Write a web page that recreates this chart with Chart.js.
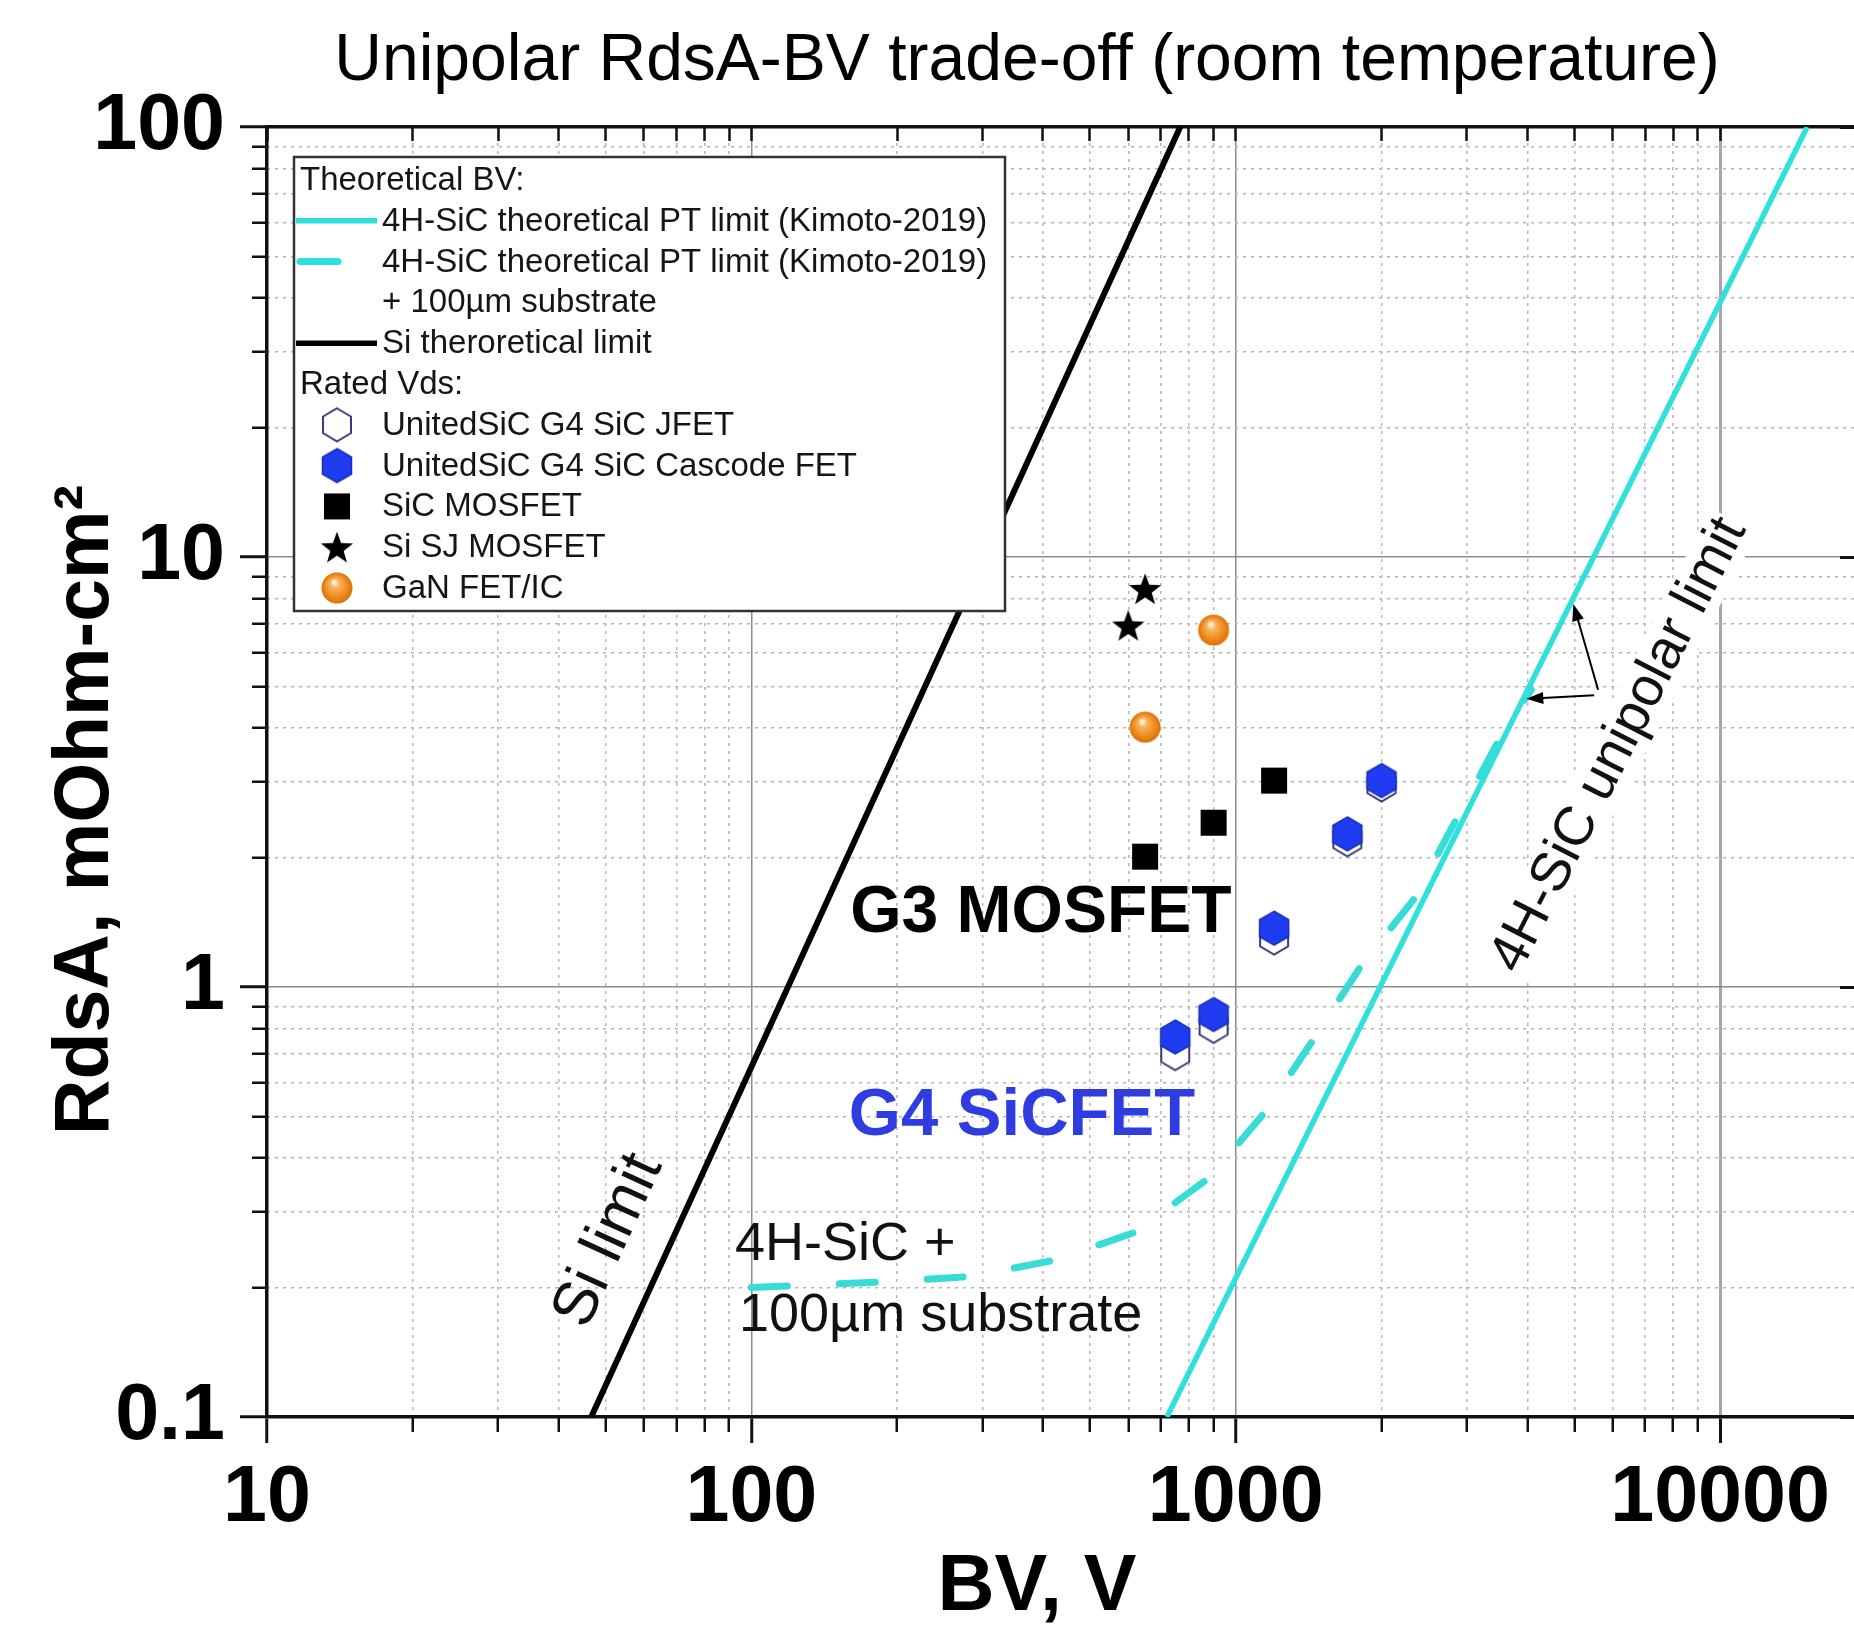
<!DOCTYPE html>
<html>
<head>
<meta charset="utf-8">
<title>Unipolar RdsA-BV trade-off</title>
<script src="https://cdn.jsdelivr.net/npm/chart.js@4/dist/chart.umd.min.js"></script>
<style>
  html, body { margin: 0; padding: 0; background: #fff; }
  canvas { display: block; }
</style>
</head>
<body>
<canvas id="tradeoff" width="1854" height="1626"></canvas>
<script>
// BV in volts, RdsA in mOhm-cm2
const siLimitBV = [46.7, 119, 768];
const siLimitR = [0.1, 1, 100];

const sicLimitBV = [721, 1986, 15130];
const sicLimitR = [0.1, 1, 100];

const sicSubBV = [100, 187, 282, 426, 620, 881, 1150, 1459, 1833, 2323, 2917, 3530, 4074];
const sicSubR = [0.200, 0.206, 0.212, 0.232, 0.269, 0.360, 0.512, 0.766, 1.14, 1.59, 2.57, 3.83, 4.91];

const jfetBV = [750, 900, 1200, 1700, 2000];
const jfetR = [0.70, 0.81, 1.30, 2.20, 2.95];

const cascodeBV = [750, 900, 1200, 1700, 2000];
const cascodeR = [0.765, 0.863, 1.37, 2.27, 3.02];

const mosfetBV = [650, 900, 1200];
const mosfetR = [2.01, 2.41, 3.02];

const sjBV = [600, 650];
const sjR = [6.93, 8.43];

const ganBV = [650, 900];
const ganR = [4.02, 6.76];

const xMajor = [10, 100, 1000, 10000];
const yMajor = [0.1, 1, 10, 100];
const X_MIN = 10, X_MAX = 18900;
const Y_MIN = 0.1, Y_MAX = 100;

// 2..9 multiples of each decade, for the minor ticks / dotted grid
const minorTicks = (lo, hi) => {
    const out = [];
    for (let d = lo; d < hi; d *= 10) {
        for (let k = 2; k <= 9; k++) out.push(+(k * d).toPrecision(3));
    }
    return out;
};
const xMinor = minorTicks(10, 10000);
const yMinor = minorTicks(0.1, 100);

const FONT = '"Liberation Sans", Arial, Helvetica, sans-serif';
const CYAN = '#30e0dd';
const BLUE = '#1f3cf0';

// text labels placed in data coordinates
const notes = [
    { text: 'G3 MOSFET', x: 396, y: 1.48, size: 66, weight: 'bold', color: '#000' },
    { text: 'G4 SiCFET', x: 362, y: 0.499, size: 67, weight: 'bold', color: '#2f3de0' },
    { text: '4H-SiC +', x: 92.5, y: 0.251, size: 54, align: 'left' },
    { text: '100µm substrate', x: 94.3, y: 0.172, size: 54, align: 'left' },
    { text: 'Si limit', x: 50.8, y: 0.257, size: 62, angle: -65.5 },
    { text: '4H-SiC unipolar limit', x: 6190, y: 3.65, size: 55, angle: -63, mask: true }
];
const arrows = [
    { from: [5600, 4.91], to: [4977, 7.78] },
    { from: [5495, 4.77], to: [3980, 4.68] }
];

// marker glyphs
function makeIcon(w, h, draw) {
    const c = document.createElement('canvas');
    c.width = w;
    c.height = h;
    draw(c.getContext('2d'), w / 2, h / 2);
    return c;
}
function hexPath(ctx, cx, cy, rx, ry) {
    ctx.beginPath();
    ctx.moveTo(cx, cy - ry);
    ctx.lineTo(cx + rx, cy - ry / 2);
    ctx.lineTo(cx + rx, cy + ry / 2);
    ctx.lineTo(cx, cy + ry);
    ctx.lineTo(cx - rx, cy + ry / 2);
    ctx.lineTo(cx - rx, cy - ry / 2);
    ctx.closePath();
}
const hexFilled = makeIcon(34, 38, (ctx, cx, cy) => {
    hexPath(ctx, cx, cy, 14.5, 17);
    ctx.fillStyle = BLUE;
    ctx.fill();
    ctx.strokeStyle = '#1a2db8';
    ctx.lineWidth = 1.5;
    ctx.stroke();
});
const hexOpen = makeIcon(34, 38, (ctx, cx, cy) => {
    hexPath(ctx, cx, cy, 14, 16.5);
    ctx.fillStyle = '#fff';
    ctx.fill();
    ctx.strokeStyle = '#3a3a78';
    ctx.lineWidth = 2;
    ctx.stroke();
});
const squareIcon = makeIcon(28, 28, (ctx) => {
    ctx.fillStyle = '#000';
    ctx.fillRect(1, 1, 26, 26);
});
const starIcon = makeIcon(36, 36, (ctx, cx, cy) => {
    ctx.beginPath();
    for (let i = 0; i < 10; i++) {
        const r = i % 2 ? 7 : 17;
        const a = -Math.PI / 2 + i * Math.PI / 5;
        ctx.lineTo(cx + r * Math.cos(a), cy + 1.5 + r * Math.sin(a));
    }
    ctx.closePath();
    ctx.fillStyle = '#000';
    ctx.fill();
});
const sphereIcon = makeIcon(34, 34, (ctx, cx, cy) => {
    const g = ctx.createRadialGradient(cx - 3, cy - 6, 1, cx, cy, 15.5);
    g.addColorStop(0, '#fff4e2');
    g.addColorStop(0.25, '#f8b45a');
    g.addColorStop(0.7, '#ee8a1e');
    g.addColorStop(1, '#d97206');
    ctx.beginPath();
    ctx.arc(cx, cy, 15.5, 0, Math.PI * 2);
    ctx.fillStyle = g;
    ctx.fill();
});

const legendRows = [
    { type: 'head', text: 'Theoretical BV:' },
    { type: 'solid', color: CYAN, width: 5.5, text: '4H-SiC theoretical PT limit (Kimoto-2019)' },
    { type: 'dash', color: CYAN, width: 7, text: '4H-SiC theoretical PT limit (Kimoto-2019)' },
    { type: 'text', text: '+ 100µm substrate' },
    { type: 'solid', color: '#000', width: 5.5, text: 'Si theroretical limit' },
    { type: 'head', text: 'Rated Vds:' },
    { type: 'icon', icon: hexOpen, text: 'UnitedSiC G4 SiC JFET' },
    { type: 'icon', icon: hexFilled, text: 'UnitedSiC G4 SiC Cascode FET' },
    { type: 'icon', icon: squareIcon, text: 'SiC MOSFET' },
    { type: 'icon', icon: starIcon, text: 'Si SJ MOSFET' },
    { type: 'icon', icon: sphereIcon, text: 'GaN FET/IC' }
];

const pts = (xs, ys) => xs.map((x, i) => ({ x: x, y: ys[i] }));

function drawArrow(ctx, x1, y1, x2, y2) {
    const a = Math.atan2(y2 - y1, x2 - x1);
    const L = 17, W = 6;
    const cos = Math.cos(a), sin = Math.sin(a);
    ctx.beginPath();
    ctx.moveTo(x1, y1);
    ctx.lineTo(x2 - L * 0.7 * cos, y2 - L * 0.7 * sin);
    ctx.stroke();
    ctx.beginPath();
    ctx.moveTo(x2, y2);
    ctx.lineTo(x2 - L * cos + W * sin, y2 - L * sin - W * cos);
    ctx.lineTo(x2 - L * cos - W * sin, y2 - L * sin + W * cos);
    ctx.closePath();
    ctx.fill();
}

function drawLegend(ctx) {
    const left = 294, top = 157, right = 1005, bottom = 611;
    ctx.save();
    ctx.fillStyle = '#fff';
    ctx.fillRect(left, top, right - left, bottom - top);
    ctx.strokeStyle = '#333';
    ctx.lineWidth = 2.5;
    ctx.strokeRect(left, top, right - left, bottom - top);
    ctx.font = '33px ' + FONT;
    ctx.textBaseline = 'middle';
    legendRows.forEach((row, i) => {
        const y = 180 + i * 40.8;
        if (row.type === 'solid' || row.type === 'dash') {
            ctx.strokeStyle = row.color;
            ctx.lineWidth = row.width;
            ctx.lineCap = row.type === 'dash' ? 'round' : 'butt';
            ctx.beginPath();
            ctx.moveTo(row.type === 'dash' ? 300 : 296, y);
            ctx.lineTo(row.type === 'dash' ? 338 : 377, y);
            ctx.stroke();
        } else if (row.type === 'icon') {
            ctx.drawImage(row.icon, 337 - row.icon.width / 2, y - row.icon.height / 2);
        }
        ctx.fillStyle = '#151515';
        ctx.fillText(row.text, row.type === 'head' ? 300 : 382, y + 1);
    });
    ctx.restore();
}

const decor = {
    id: 'decor',
    beforeDraw(chart) {
        const ctx = chart.ctx;
        ctx.save();
        ctx.fillStyle = '#fff';
        ctx.fillRect(0, 0, chart.width, chart.height);
        ctx.restore();
    },
    afterDatasetsDraw(chart) {
        const { ctx, scales } = chart;
        const px = (x, y) => [scales.x.getPixelForValue(x), scales.y.getPixelForValue(y)];

        notes.forEach(n => {
            const [x, y] = px(n.x, n.y);
            ctx.save();
            ctx.translate(x, y);
            ctx.rotate((n.angle || 0) * Math.PI / 180);
            ctx.font = (n.weight || 'normal') + ' ' + n.size + 'px ' + FONT;
            ctx.textAlign = n.align || 'center';
            ctx.textBaseline = 'middle';
            if (n.mask) {
                const w = ctx.measureText(n.text).width;
                ctx.fillStyle = '#fff';
                ctx.fillRect(-w / 2 - 2, -n.size * 0.48, w + 4, n.size * 0.96);
            }
            ctx.fillStyle = n.color || '#111';
            ctx.fillText(n.text, 0, 0);
            ctx.restore();
        });

        ctx.save();
        ctx.strokeStyle = '#000';
        ctx.fillStyle = '#000';
        ctx.lineWidth = 2;
        arrows.forEach(a => {
            const [x1, y1] = px(a.from[0], a.from[1]);
            const [x2, y2] = px(a.to[0], a.to[1]);
            drawArrow(ctx, x1, y1, x2, y2);
        });
        ctx.restore();

        drawLegend(ctx);
    },
    afterDraw(chart) {
        const ctx = chart.ctx;
        ctx.save();
        ctx.fillStyle = '#000';
        ctx.textAlign = 'center';
        ctx.textBaseline = 'alphabetic';
        ctx.font = '66px ' + FONT;
        ctx.fillText('Unipolar RdsA-BV trade-off (room temperature)', 1027, 80);
        ctx.font = 'bold 79px ' + FONT;
        ctx.fillText('BV, V', 1037, 1610);
        ctx.translate(108, 810);
        ctx.rotate(-Math.PI / 2);
        ctx.font = 'bold 77px ' + FONT;
        ctx.fillText('RdsA, mOhm-cm²', 0, 0);
        ctx.restore();
    }
};

const tickValue = c => (c.tick ? c.tick.value : 0);
const labelFont = { family: FONT, size: 79, weight: 'bold', lineHeight: 1.2 };

new Chart(document.getElementById('tradeoff'), {
    type: 'scatter',
    data: {
        datasets: [
            { label: 'UnitedSiC G4 SiC Cascode FET', data: pts(cascodeBV, cascodeR), pointStyle: hexFilled, pointRadius: 14, order: 1 },
            { label: 'UnitedSiC G4 SiC JFET', data: pts(jfetBV, jfetR), pointStyle: hexOpen, pointRadius: 14, order: 2 },
            { label: 'SiC MOSFET', data: pts(mosfetBV, mosfetR), pointStyle: squareIcon, pointRadius: 14, order: 3 },
            { label: 'Si SJ MOSFET', data: pts(sjBV, sjR), pointStyle: starIcon, pointRadius: 14, order: 3 },
            { label: 'GaN FET/IC', data: pts(ganBV, ganR), pointStyle: sphereIcon, pointRadius: 14, order: 3 },
            {
                label: '4H-SiC theoretical PT limit (Kimoto-2019)', data: pts(sicLimitBV, sicLimitR),
                showLine: true, borderColor: CYAN, borderWidth: 5.5, pointRadius: 0, order: 5
            },
            {
                label: '4H-SiC theoretical PT limit (Kimoto-2019) + 100µm substrate', data: pts(sicSubBV, sicSubR),
                showLine: true, borderColor: '#38dcd6', borderWidth: 7, borderDash: [36, 52],
                borderCapStyle: 'round', pointRadius: 0, order: 6
            },
            {
                label: 'Si theroretical limit', data: pts(siLimitBV, siLimitR),
                showLine: true, borderColor: '#000', borderWidth: 6, pointRadius: 0, order: 5
            }
        ]
    },
    options: {
        responsive: false,
        devicePixelRatio: 1,
        animation: false,
        events: [],
        layout: { padding: { top: 127, left: 0, right: 0, bottom: 0 }, autoPadding: false },
        plugins: { legend: { display: false }, tooltip: { enabled: false }, title: { display: false } },
        scales: {
            x: {
                type: 'logarithmic', position: 'bottom', min: X_MIN, max: X_MAX, weight: 1,
                afterBuildTicks: s => { s.ticks = xMajor.map(v => ({ value: v })); },
                afterFit: s => { s.height = 209; },
                ticks: { autoSkip: false, maxRotation: 0, padding: 9, color: '#000', font: labelFont, callback: v => String(v) },
                grid: {
                    color: c => tickValue(c) === 10 ? 'rgba(0,0,0,0)' : (tickValue(c) === 10000 ? '#a6a6a6' : '#8c8c8c'),
                    lineWidth: c => tickValue(c) === 10000 ? 3 : 1.5,
                    tickLength: 26, tickWidth: 3, tickColor: '#111'
                },
                border: { display: true, color: '#111', width: 3.5 }
            },
            xm: {
                type: 'logarithmic', position: 'bottom', min: X_MIN, max: X_MAX, weight: 0,
                afterBuildTicks: s => { s.ticks = xMinor.map(v => ({ value: v })); },
                afterFit: s => { s.height = 0; },
                ticks: { display: false },
                grid: { color: '#b6b6b6', lineWidth: 1.5, tickLength: 15, tickWidth: 2.5, tickColor: '#111' },
                border: { display: false, dash: [3, 5] }
            },
            xt: {
                type: 'logarithmic', position: 'top', min: X_MIN, max: X_MAX,
                afterBuildTicks: s => { s.ticks = xMajor.concat(xMinor).map(v => ({ value: v })); },
                afterFit: s => { s.height = 0; },
                ticks: { display: false },
                grid: { drawOnChartArea: false, tickLength: -14, tickWidth: 2.5, tickColor: '#111' },
                border: { display: true, color: '#111', width: 3.5 }
            },
            y: {
                type: 'logarithmic', position: 'left', min: Y_MIN, max: Y_MAX, weight: 1,
                afterBuildTicks: s => { s.ticks = yMajor.map(v => ({ value: v })); },
                afterFit: s => { s.width = 267; },
                ticks: { autoSkip: false, padding: 15, color: '#000', font: labelFont, callback: v => String(v) },
                grid: {
                    color: c => (tickValue(c) === 1 || tickValue(c) === 10) ? '#8c8c8c' : 'rgba(0,0,0,0)',
                    lineWidth: 1.5, tickLength: 27, tickWidth: 3, tickColor: '#111'
                },
                border: { display: true, color: '#111', width: 3.5 }
            },
            ym: {
                type: 'logarithmic', position: 'left', min: Y_MIN, max: Y_MAX, weight: 0,
                afterBuildTicks: s => { s.ticks = yMinor.map(v => ({ value: v })); },
                afterFit: s => { s.width = 0; },
                ticks: { display: false },
                grid: { color: '#b6b6b6', lineWidth: 1.5, tickLength: 15, tickWidth: 2.5, tickColor: '#111' },
                border: { display: false, dash: [3, 5] }
            },
            yr: {
                type: 'logarithmic', position: 'right', min: Y_MIN, max: Y_MAX,
                afterBuildTicks: s => { s.ticks = yMajor.map(v => ({ value: v })); },
                afterFit: s => { s.width = 0; },
                ticks: { display: false },
                grid: { drawOnChartArea: false, tickLength: -14, tickWidth: 3, tickColor: '#111' },
                border: { display: false }
            }
        }
    },
    plugins: [decor]
});
</script>
</body>
</html>
